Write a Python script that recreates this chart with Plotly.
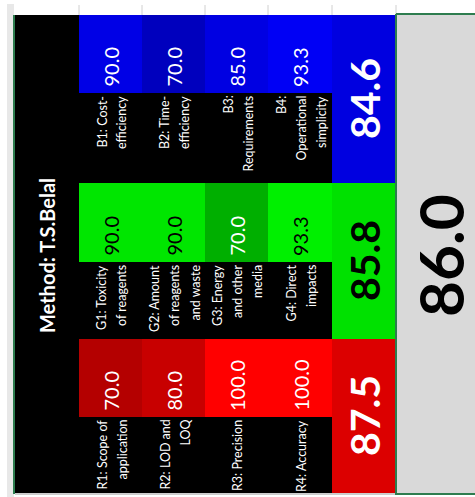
import plotly.graph_objects as go

# ---------------- data ----------------
method_title = "Method: T.S.Belal"

blue_labels = [["B1: Cost-", "efficiency"], ["B2: Time-", "efficiency"],
               ["B3:", "Requirements"], ["B4:", "Operational", "simplicity"]]
blue_values = [90.0, 70.0, 85.0, 93.3]
blue_total = 84.6

green_labels = [["G1: Toxicity", "of reagents"], ["G2: Amount", "of reagents", "and waste"],
                ["G3: Energy", "and other", "media"], ["G4: Direct", "impacts"]]
green_values = [90.0, 90.0, 70.0, 93.3]
green_total = 85.8

red_labels = [["R1: Scope of", "application"], ["R2: LOD and", "LOQ"],
              ["R3: Precision"], ["R4: Accuracy"]]
red_values = [70.0, 80.0, 100.0, 100.0]
red_total = 87.5

overall_score = 86.0

# ---------------- styles / layout geometry ----------------
blue_cell_colors = ["#0000E6", "#0000BE", "#0000E2", "#0000F5"]
blue_total_color = "#0000E0"
green_cell_colors = ["#00E600", "#00E600", "#00AF00", "#00F000"]
green_total_color = "#00E100"
red_cell_colors = ["#B40000", "#C80000", "#FF0000", "#FF0000"]
red_total_color = "#DC0000"
green_text_colors = ["black", "black", "white", "black"]

col_edges = [15, 79, 142, 205, 268, 332, 396]
# (value row top, value row bottom, label row bottom) per group
group_rows = [(15, 93, 183), (183, 262, 339), (339, 417, 493)]
FONT = "Lato"
LINE_GAP = 20

groups = [
    (blue_labels, blue_values, blue_total, blue_cell_colors, blue_total_color,
     ["white"] * 4, "white"),
    (green_labels, green_values, green_total, green_cell_colors, green_total_color,
     green_text_colors, "black"),
    (red_labels, red_values, red_total, red_cell_colors, red_total_color,
     ["white"] * 4, "white"),
]

shapes = []
annotations = []


def rect(x0, x1, y0, y1, color, layer="below"):
    shapes.append(dict(type="rect", xref="x", yref="y", x0=x0, x1=x1, y0=y0, y1=y1,
                       fillcolor=color, line=dict(width=0), layer=layer))


def line(x0, x1, y0, y1, color, w):
    shapes.append(dict(type="line", xref="x", yref="y", x0=x0, x1=x1, y0=y0, y1=y1,
                       line=dict(color=color, width=w), layer="above"))


# background chrome
rect(7, 14, 4, 497, "#e8e8e8")
for xe in col_edges[1:]:
    line(xe, xe, 5, 15, "#d0d0d0", 1)
rect(col_edges[0], col_edges[-1], 15, group_rows[-1][2], "black")
line(col_edges[0], col_edges[-1], 494, 494, "#9a9a9a", 1)
rect(col_edges[-1], 475, 15, group_rows[-1][2], "#d9d9d9")
line(14, 14, 15, 494, "#2e7d4f", 2)
line(col_edges[-1], col_edges[-1], 14, 495, "#2e7d4f", 2)
line(col_edges[-1], 475, 14, 14, "#2e7d4f", 2)
line(col_edges[-1], 475, 494, 494, "#2e7d4f", 2)

for (labels, values, total, cell_cols, tot_col, txt_cols, tot_txt), (top, mid, bot) in zip(groups, group_rows):
    for i, (lab, val, cc, tc) in enumerate(zip(labels, values, cell_cols, txt_cols)):
        x0, x1 = col_edges[i + 1], col_edges[i + 2]
        xc = (x0 + x1) / 2
        rect(x0, x1, top, mid, cc)
        annotations.append(dict(x=xc, y=mid - 5, xref="x", yref="y", text=f"{val:.1f}",
                                textangle=-90, showarrow=False, xanchor="center",
                                yanchor="bottom", borderpad=0,
                                font=dict(family=FONT, size=20, color=tc)))
        n = len(lab)
        for k, ln in enumerate(lab):
            annotations.append(dict(x=xc + 1 + (k - (n - 1) / 2) * LINE_GAP, y=mid + 2,
                                    xref="x", yref="y", text=ln, textangle=-90,
                                    showarrow=False, xanchor="center", yanchor="top",
                                    borderpad=0,
                                    font=dict(family=FONT, size=12.5, color="white")))
    x0, x1 = col_edges[5], col_edges[6]
    rect(x0, x1, top, bot, tot_col)
    annotations.append(dict(x=(x0 + x1) / 2, y=(top + bot) / 2, xref="x", yref="y",
                            text=f"{total:.1f}", textangle=-90, showarrow=False,
                            xanchor="center", yanchor="middle", borderpad=0,
                            font=dict(family=FONT, size=41, color=tot_txt, weight="bold")))

annotations.append(dict(x=(col_edges[0] + col_edges[1]) / 2 + 0, y=256, xref="x", yref="y",
                        text=method_title, textangle=-90, showarrow=False,
                        xanchor="center", yanchor="middle", borderpad=0,
                        font=dict(family=FONT, size=20, color="white", weight="bold")))
annotations.append(dict(x=440, y=256, xref="x", yref="y", text=f"{overall_score:.1f}",
                        textangle=-90, showarrow=False, xanchor="center", yanchor="middle",
                        borderpad=0,
                        font=dict(family=FONT, size=62, color="black", weight="bold")))

fig = go.Figure()
fig.add_trace(go.Scatter(x=[0, 475], y=[0, 497], mode="markers",
                         marker=dict(opacity=0), hoverinfo="skip", showlegend=False))
fig.update_layout(
    width=475, height=497, margin=dict(l=0, r=0, t=0, b=0),
    paper_bgcolor="white", plot_bgcolor="white",
    xaxis=dict(range=[0, 475], visible=False, fixedrange=True),
    yaxis=dict(range=[497, 0], visible=False, fixedrange=True),
    shapes=shapes, annotations=annotations, showlegend=False,
)
fig.write_html("out.html", config={"displayModeBar": False},
               post_script="document.body.style.margin='0';document.body.style.overflow='hidden';")
